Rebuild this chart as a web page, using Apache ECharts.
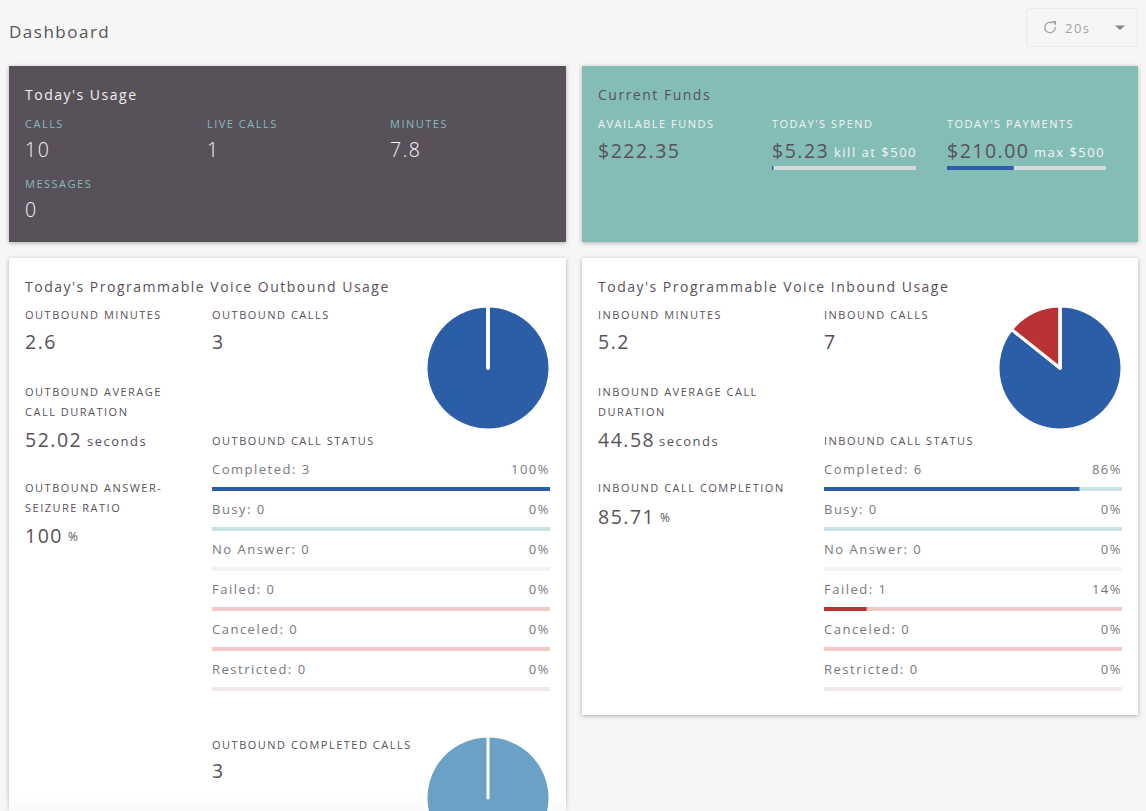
<!DOCTYPE html>
<html>
<head>
<meta charset="utf-8">
<title>Dashboard</title>
<script src="https://cdn.jsdelivr.net/npm/echarts@6/dist/echarts.min.js"></script>
<style>
html, body { margin: 0; padding: 0; background: #f6f6f6; overflow: hidden; }
#chart { width: 1146px; height: 811px; }
#chart text { letter-spacing: 1.5px; }
</style>
</head>
<body>
<div id="chart"></div>
<script>
var usageLabels = ['CALLS', 'LIVE CALLS', 'MINUTES', 'MESSAGES'];
var usageValues = ['10', '1', '7.8', '0'];

var fundLabels = ['AVAILABLE FUNDS', "TODAY'S SPEND", "TODAY'S PAYMENTS"];
var fundValues = [222.35, 5.23, 210.00];
var fundNotes = ['', 'kill at $500', 'max $500'];
var fundLimit = 500;

var statusNames = ['Completed', 'Busy', 'No Answer', 'Failed', 'Canceled', 'Restricted'];
var outboundCounts = [3, 0, 0, 0, 0, 0];
var inboundCounts = [6, 0, 0, 1, 0, 0];
var outboundCompleted = [3, 0];

var outboundStats = ['2.6', '3', '52.02', '100'];
var inboundStats = ['5.2', '7', '44.58', '85.71'];

var statusColors = ['#2c5ea8', '#6aa1c4', '#cccccc', '#b93234', '#b93234', '#bbaaaa'];
var trackColors = ['#c9e0e5', '#c9e0e5', '#f3f3f3', '#f1c9c6', '#f1c9c6', '#efe8e6'];

var dark = '#59515a';
var grey = '#77777b';
var font = '"Open Sans", sans-serif';

var graphics = [];
var grids = [];
var xAxes = [];
var yAxes = [];
var series = [];

function card(x, y, w, h, color) {
    graphics.push({
        type: 'rect', z: 0,
        shape: { x: x, y: y, width: w, height: h },
        style: { fill: color, shadowBlur: 4, shadowOffsetY: 1, shadowColor: 'rgba(0,0,0,0.3)' }
    });
}

function text(x, y, str, size, color, weight, align) {
    graphics.push({
        type: 'text', z: 5, x: x, y: y,
        style: {
            text: str, fill: color, font: (weight || 400) + ' ' + size + 'px ' + font,
            align: align || 'left', verticalAlign: 'middle', lineHeight: 20
        }
    });
}

function bar(left, top, width, value, max, color, track) {
    var i = grids.length;
    grids.push({ left: left, top: top, width: width, height: 4 });
    xAxes.push({ type: 'value', gridIndex: i, min: 0, max: max, show: false });
    yAxes.push({ type: 'category', gridIndex: i, data: [''], show: false });
    series.push({
        type: 'bar', xAxisIndex: i, yAxisIndex: i, data: [value], barWidth: 4, silent: true,
        itemStyle: { color: color }, showBackground: true, backgroundStyle: { color: track, opacity: 1 },
        animation: false
    });
}

function pie(cx, cy, values, colors) {
    series.push({
        type: 'pie', center: [cx, cy], radius: 62, startAngle: 90, silent: true, animation: false,
        label: { show: false }, labelLine: { show: false },
        itemStyle: { borderColor: '#ffffff', borderWidth: 3 },
        data: values.map(function (v, i) {
            return { value: v, itemStyle: { color: colors[i] } };
        })
    });
}

// page header and refresh control
text(9, 31, 'Dashboard', 17, '#55555a');
graphics.push({
    type: 'rect', z: 1,
    shape: { x: 1026.5, y: 8.5, width: 111, height: 38, r: 3 },
    style: { fill: '#f6f6f6', stroke: '#e6e6e6', lineDash: [2, 1] }
});
graphics.push({
    type: 'arc', z: 5,
    shape: { cx: 1050, cy: 27.5, r: 5.2, startAngle: -1.1, endAngle: -0.1, clockwise: false },
    style: { fill: 'none', stroke: '#a3a3a3', lineWidth: 1.3 }
});
graphics.push({
    type: 'polygon', z: 5,
    shape: { points: [[1051.5, 21], [1056, 21], [1056, 25.5]] },
    style: { fill: '#a3a3a3' }
});
text(1065, 28, '20s', 13, '#a3a3a3');
graphics.push({
    type: 'polygon', z: 5,
    shape: { points: [[1115, 25.5], [1125, 25.5], [1120, 30]] },
    style: { fill: '#888888' }
});

// today's usage
card(9, 66, 557, 176, '#59515a');
text(25, 94, "Today's Usage", 14, '#f0f0f0');
var usageX = [25, 207, 390, 25];
var usageY = [123, 123, 123, 183];
usageLabels.forEach(function (lab, i) {
    text(usageX[i], usageY[i], lab, 11, '#84bdb6');
    text(usageX[i], usageY[i] + 26.5, usageValues[i], 19.5, '#f4f4f4', 300);
});

// current funds
card(582, 66, 556, 176, '#84bdb6');
text(598, 94, 'Current Funds', 14, dark);
var fundX = [598, 772, 947];
var fundNoteX = [0, 834, 1034];
fundLabels.forEach(function (lab, i) {
    text(fundX[i], 123, lab, 11, '#f4f4f4');
    text(fundX[i], 150, '$' + fundValues[i].toFixed(2), 19.5, dark);
    if (fundNotes[i]) text(fundNoteX[i], 152, fundNotes[i], 13, '#f4f4f4');
});
bar(772, 166, 144, fundValues[1], fundLimit, '#2c5ea8', '#d4d9dc');
bar(947, 166, 159, fundValues[2], fundLimit, '#2c5ea8', '#d4d9dc');

// voice usage panels
function panel(o) {
    card(o.x, 258, o.w, o.h, '#ffffff');
    text(o.x + 16, 286, o.title, 14, dark);

    var c1 = o.x + 16;
    text(c1, 314, o.word + ' MINUTES', 11, dark);
    text(c1, 341.5, o.stats[0], 19.5, dark);
    text(c1, 401, o.word + ' AVERAGE' + o.durationBreak, 11, dark);
    text(c1, 439.5, o.stats[2], 19.5, dark);
    text(o.secondsX, 441, 'seconds', 13, dark);
    text(c1, o.rateLabelY, o.rateLabel, 11, dark);
    text(c1, o.rateY, o.stats[3], 19.5, dark);
    text(o.percentX, o.rateY + 1, '%', 12, dark);

    text(o.col2, 314, o.word + ' CALLS', 11, dark);
    text(o.col2, 341.5, o.stats[1], 19.5, dark);
    text(o.col2, 440, o.word + ' CALL STATUS', 11, dark);

    var total = o.counts.reduce(function (a, b) { return a + b; }, 0);
    statusNames.forEach(function (name, i) {
        var y = 469 + i * 40;
        text(o.col2, y, name + ': ' + o.counts[i], 13, grey);
        text(o.right, y, Math.round(o.counts[i] / total * 100) + '%', 13, grey, 400, 'right');
        bar(o.col2, y + 18, o.right - o.col2, o.counts[i], total, statusColors[i], trackColors[i]);
    });
    pie(o.pieX, 368, o.counts, statusColors);
}

panel({
    x: 9, w: 557, h: 570, col2: 212, right: 550, pieX: 488, word: 'OUTBOUND',
    title: "Today's Programmable Voice Outbound Usage",
    durationBreak: '\nCALL DURATION', rateLabel: 'OUTBOUND ANSWER-\nSEIZURE RATIO',
    rateLabelY: 497, rateY: 535,
    secondsX: 87, percentX: 68, stats: outboundStats, counts: outboundCounts
});
panel({
    x: 582, w: 556, h: 457, col2: 824, right: 1122, pieX: 1060, word: 'INBOUND',
    title: "Today's Programmable Voice Inbound Usage",
    durationBreak: ' CALL\nDURATION', rateLabel: 'INBOUND CALL COMPLETION',
    rateLabelY: 487, rateY: 516,
    secondsX: 659, percentX: 660, stats: inboundStats, counts: inboundCounts
});

text(212, 744, 'OUTBOUND COMPLETED CALLS', 11, dark);
text(212, 770.5, String(outboundCompleted[0]), 19.5, dark);
pie(488, 798, outboundCompleted, ['#6aa1c4', '#6aa1c4']);

// the page fades out at the bottom edge, behind the pie
graphics.push({
    type: 'rect', z: 1,
    shape: { x: 0, y: 796, width: 1146, height: 15 },
    style: {
        fill: new echarts.graphic.LinearGradient(0, 0, 0, 1, [
            { offset: 0, color: 'rgba(246,246,246,0)' },
            { offset: 1, color: 'rgba(246,246,246,0.6)' }
        ])
    }
});

var myChart = echarts.init(document.getElementById('chart'), null, { renderer: 'svg' });
myChart.setOption({
    backgroundColor: '#f6f6f6',
    animation: false,
    tooltip: { show: false },
    legend: { show: false },
    grid: grids,
    xAxis: xAxes,
    yAxis: yAxes,
    graphic: { elements: graphics },
    series: series
});
</script>
</body>
</html>
